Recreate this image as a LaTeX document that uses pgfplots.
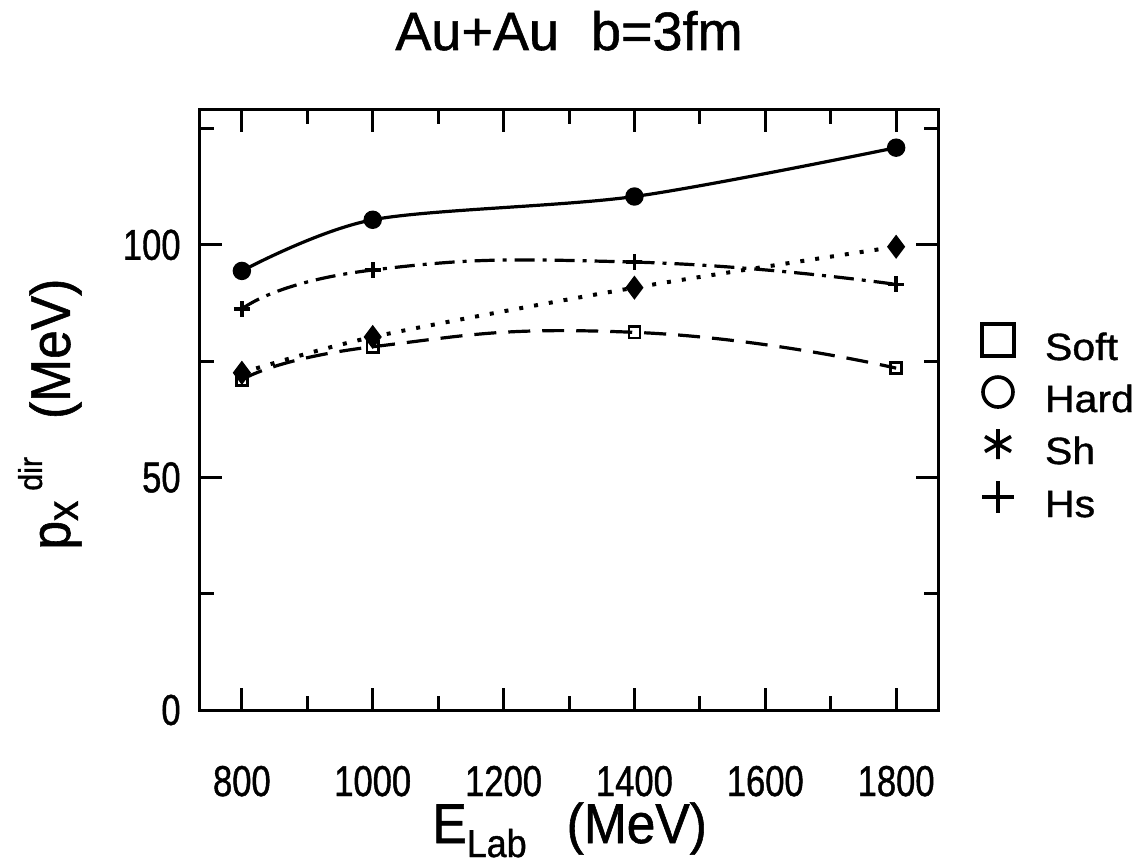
\documentclass[border=0pt]{standalone}
\usepackage{fontspec}
\setmainfont{Liberation Sans}[FakeBold=1]
\newfontfamily\condfont{Liberation Sans}[FakeStretch=0.8, FakeBold=1]
\newfontfamily\labfont{Liberation Sans}[FakeStretch=0.92, FakeBold=1]
\newfontfamily\legfont{Liberation Sans}[FakeStretch=1.08, FakeBold=1]
\usepackage{pgfplots}
\pgfplotsset{compat=1.18}
\pgfplotsset{legmark/.style={legend image code/.code={\draw[##1, only marks] plot coordinates {(0pt,10pt)};}}}
\begin{document}
\begin{tikzpicture}
\path[use as bounding box] (-100pt,-76.5pt) rectangle (471.5pt,355pt);
\begin{axis}[
  at={(0pt,0pt)}, anchor=south west,
  scale only axis, width=369pt, height=300pt,
  xmin=736, xmax=1864, ymin=0, ymax=129,
  xtick={800,1000,1200,1400,1600,1800},
  xticklabels={800,1000,1200,1400,1600,1800},
  ytick={0,50,100}, yticklabels={0,50,100},
  minor xtick={900,1100,1300,1500,1700},
  minor ytick={25,75,125},
  tick align=inside, xtick pos=both, ytick pos=both,
  xticklabel pos=bottom, yticklabel pos=left,
  major tick length=11pt, minor tick length=7pt,
  tick style={line width=1.5pt, black},
  axis line style={line width=1.5pt},
  xticklabel style={font=\condfont\fontsize{21.6}{22}\selectfont, anchor=base, inner sep=0pt, yshift=-43pt},
  yticklabel style={font=\condfont\fontsize{21.6}{22}\selectfont, anchor=east, inner sep=0pt, xshift=-9.5pt},
  every axis title shift=0pt,
  title={\fontsize{27}{27}\selectfont Au+Au\hspace{16pt}b=3fm},
  title style={at={(axis description cs:0.2642,1.1)}, anchor=base west, inner sep=0pt},
  xlabel={\labfont\fontsize{28}{28}\selectfont E\raisebox{-7pt}{\fontsize{19.5}{20}\selectfont Lab}\hspace{20pt}(MeV)},
  xlabel style={at={(axis description cs:0.3144,-0.2217)}, anchor=base west, inner sep=0pt},
  ylabel={\labfont\fontsize{28}{28}\selectfont p\raisebox{-4pt}{\fontsize{22}{22}\selectfont x}\hspace{5pt}\raisebox{14pt}{\fontsize{16.5}{17}\selectfont dir}\hspace{19pt}(MeV)},
  ylabel style={at={(axis description cs:-0.1762,0.2667)}, anchor=base west, inner sep=0pt},
  legend cell align=left,
  legend style={draw=none, fill=none, at={(axis description cs:1.0596,0.6433)}, anchor=north west,
    inner sep=0pt, outer sep=0pt, column sep=15.5pt, row sep=7pt,
    font=\legfont\fontsize{19}{19}\selectfont,
    nodes={inner sep=0pt}, cells={anchor=base west}},
]
% Hard: solid, filled circles
\addplot[forget plot, smooth, line width=1.6pt, black, mark=*, mark size=3.8pt, mark options={solid}]
  coordinates {(800,94.4) (1000,105.4) (1400,110.4) (1800,120.9)};
% Hs: dash-dot, plus
\addplot[forget plot, smooth, tension=0.9, line width=1.6pt, black, dash pattern=on 10pt off 4pt on 2pt off 4pt,
  mark=+, mark size=4pt, mark options={solid, line width=1.8pt}]
  coordinates {(800,86.2) (1000,94.6) (1400,96.3) (1800,91.5)};
% Sh: dotted, filled diamonds
\addplot[forget plot, smooth, line width=2pt, black, dash pattern=on 2pt off 5.5pt,
  mark=diamond*, mark size=4.4pt, mark options={solid}]
  coordinates {(800,72.5) (1000,80.2) (1400,90.8) (1800,99.6)};
% Soft: dashed, squares
\addplot[forget plot, smooth, tension=0.9, line width=1.6pt, black, dash pattern=on 11pt off 6pt,
  mark=square, mark size=2.8pt, mark options={solid, line width=1.3pt, fill=white}]
  coordinates {(800,71.0) (1000,78.1) (1400,81.2) (1800,73.5)};
% legend
\addlegendimage{black, mark=square, mark size=8pt, line width=1.8pt, legmark}
\addlegendentry{Soft}
\addlegendimage{black, mark=o, mark size=7.5pt, line width=1.8pt, legmark}
\addlegendentry{Hard}
\addlegendimage{black, mark=asterisk, mark size=7.5pt, line width=1.8pt, legmark}
\addlegendentry{Sh}
\addlegendimage{black, mark=+, mark size=8pt, line width=1.8pt, legmark}
\addlegendentry{Hs}
\end{axis}
\end{tikzpicture}
\end{document}
